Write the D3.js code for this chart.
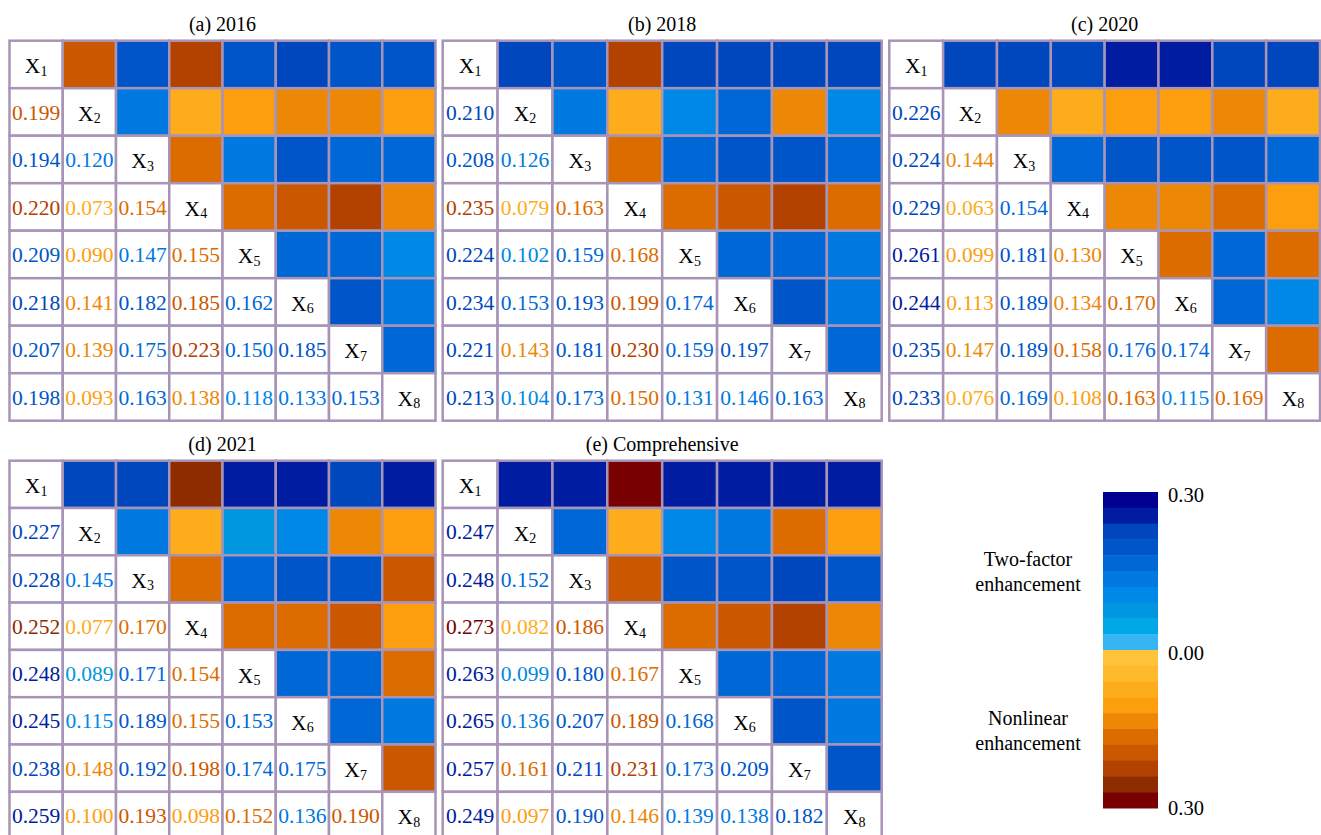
<!DOCTYPE html>
<html><head><meta charset="utf-8">
<script src="https://cdn.jsdelivr.net/npm/d3@7"></script>
<style>body{margin:0;background:#fff}svg{display:block}</style>
</head><body>
<svg id="chart" width="1321" height="835"></svg>
<script>
// ---------- DATA ----------
const factors = ["X1","X2","X3","X4","X5","X6","X7","X8"];
const panelTitles = ["(a) 2016","(b) 2018","(c) 2020","(d) 2021","(e) Comprehensive"];

// lower-triangle q-values, row k = factor X(k+2), columns X1..X(k+1)
const values2016 = [
  [0.199],
  [0.194,0.120],
  [0.220,0.073,0.154],
  [0.209,0.090,0.147,0.155],
  [0.218,0.141,0.182,0.185,0.162],
  [0.207,0.139,0.175,0.223,0.150,0.185],
  [0.198,0.093,0.163,0.138,0.118,0.133,0.153]
];
// interaction type: B = two-factor enhancement, N = nonlinear enhancement
const types2016 = ["N","BB","NNN","BNBN","BNBNB","BNBNBB","BNBNBBB"];

const values2018 = [
  [0.210],
  [0.208,0.126],
  [0.235,0.079,0.163],
  [0.224,0.102,0.159,0.168],
  [0.234,0.153,0.193,0.199,0.174],
  [0.221,0.143,0.181,0.230,0.159,0.197],
  [0.213,0.104,0.173,0.150,0.131,0.146,0.163]
];
const types2018 = ["B","BB","NNN","BBBN","BBBNB","BNBNBB","BBBNBBB"];

const values2020 = [
  [0.226],
  [0.224,0.144],
  [0.229,0.063,0.154],
  [0.261,0.099,0.181,0.130],
  [0.244,0.113,0.189,0.134,0.170],
  [0.235,0.147,0.189,0.158,0.176,0.174],
  [0.233,0.076,0.169,0.108,0.163,0.115,0.169]
];
const types2020 = ["B","BN","BNB","BNBN","BNBNN","BNBNBB","BNBNNBN"];

const values2021 = [
  [0.227],
  [0.228,0.145],
  [0.252,0.077,0.170],
  [0.248,0.089,0.171,0.154],
  [0.245,0.115,0.189,0.155,0.153],
  [0.238,0.148,0.192,0.198,0.174,0.175],
  [0.259,0.100,0.193,0.098,0.152,0.136,0.190]
];
const types2021 = ["B","BB","NNN","BBBN","BBBNB","BNBNBB","BNNNNBN"];

const valuesAll = [
  [0.247],
  [0.248,0.152],
  [0.273,0.082,0.186],
  [0.263,0.099,0.180,0.167],
  [0.265,0.136,0.207,0.189,0.168],
  [0.257,0.161,0.211,0.231,0.173,0.209],
  [0.249,0.097,0.190,0.146,0.139,0.138,0.182]
];
const typesAll = ["B","BB","NNN","BBBN","BBBNB","BNBNBB","BNBNBBB"];

// colour bins (0 -> 0.30, step 0.03)
const binThresholds = [0.03,0.06,0.09,0.12,0.15,0.18,0.21,0.24,0.27];
const blueColors   = ["#35b6f2","#00a8e8","#0097e0","#0088e6","#0079e0","#0068d6","#0055c8","#0046bd","#001ca0","#000090"];
const orangeColors = ["#ffc43a","#ffb92c","#fdad1c","#fd9e0e","#ec8806","#dc6c00","#cb5700","#b34100","#8e2c00","#780000"];
const legendTicks = ["0.30","0.00","0.30"];
const legendNotes = [["Two-factor","enhancement"],["Nonlinear","enhancement"]];

// ---------- DRAW ----------
const FONT = "'Liberation Serif','Times New Roman',serif";
const GRID = "#a894b6";
const svg = d3.select("#chart");

const blueScale = d3.scaleThreshold().domain(binThresholds).range(blueColors);
const orangeScale = d3.scaleThreshold().domain(binThresholds).range(orangeColors);
const colorOf = (v,t) => t === "B" ? blueScale(v) : orangeScale(v);

const panels = [
  {title: panelTitles[0], values: values2016, types: types2016, x0: 9.5,   x1: 435.5, y0: 40.7,  y1: 420.7},
  {title: panelTitles[1], values: values2018, types: types2018, x0: 442.7, x1: 881.7, y0: 40.7,  y1: 420.7},
  {title: panelTitles[2], values: values2020, types: types2020, x0: 889.3, x1: 1320,  y0: 40.7,  y1: 420.7},
  {title: panelTitles[3], values: values2021, types: types2021, x0: 9.5,   x1: 435.5, y0: 460.7, y1: 839.1},
  {title: panelTitles[4], values: valuesAll,  types: typesAll,  x0: 442.7, x1: 881.7, y0: 460.7, y1: 839.1}
];

panels.forEach(p => {
  const x = d3.scaleBand().domain(factors).range([p.x0, p.x1]);
  const y = d3.scaleBand().domain(factors).range([p.y0, p.y1]);
  const g = svg.append("g");

  const cells = [];
  factors.forEach((fi, i) => factors.forEach((fj, j) => {
    let v = null, t = null;
    if (i > j) { v = p.values[i-1][j]; t = p.types[i-1][j]; }
    else if (j > i) { v = p.values[j-1][i]; t = p.types[j-1][i]; }
    cells.push({i, j, fi, fj, v, t});
  }));

  g.selectAll("rect").data(cells).join("rect")
    .attr("x", d => x(d.fj)).attr("y", d => y(d.fi))
    .attr("width", x.bandwidth()).attr("height", y.bandwidth())
    .attr("fill", d => d.j > d.i ? colorOf(d.v, d.t) : "#fff")
    .attr("stroke", GRID).attr("stroke-width", 2.5);

  // lower triangle numbers
  g.selectAll("text.val").data(cells.filter(d => d.i > d.j)).join("text")
    .attr("class", "val")
    .attr("x", d => x(d.fj) + x.bandwidth()/2)
    .attr("y", d => y(d.fi) + y.bandwidth()/2 + 7.6)
    .attr("text-anchor", "middle")
    .attr("font-family", FONT).attr("font-size", 21.5)
    .attr("fill", d => colorOf(d.v, d.t))
    .text(d => d3.format(".3f")(d.v));

  // diagonal labels
  const diag = g.selectAll("text.diag").data(cells.filter(d => d.i === d.j)).join("text")
    .attr("class", "diag")
    .attr("x", d => x(d.fj) + x.bandwidth()/2)
    .attr("y", d => y(d.fi) + y.bandwidth()/2 + 9)
    .attr("text-anchor", "middle")
    .attr("font-family", FONT).attr("fill", "#000");
  diag.append("tspan").attr("font-size", 21.5).text(d => d.fi[0]);
  diag.append("tspan").attr("font-size", 14).attr("dy", 2.5).text(d => d.fi.slice(1));

  // title
  svg.append("text")
    .attr("x", (p.x0 + p.x1)/2).attr("y", p.y0 - 9.5)
    .attr("text-anchor", "middle")
    .attr("font-family", FONT).attr("font-size", 20).attr("fill", "#000")
    .text(p.title);
});

// ---------- LEGEND ----------
const legendBins = blueColors.slice().reverse().concat(orangeColors);
const ly = d3.scaleBand().domain(d3.range(legendBins.length)).range([492, 808]);
const lg = svg.append("g");
lg.selectAll("rect").data(legendBins).join("rect")
  .attr("x", 1103).attr("width", 55)
  .attr("y", (d, i) => ly(i)).attr("height", ly.bandwidth() + 0.5)
  .attr("fill", d => d);

const tickPos = d3.scalePoint().domain(d3.range(legendTicks.length)).range([492, 808]);
const tickDy = [10, 10, 7];
lg.selectAll("text.tick").data(legendTicks).join("text")
  .attr("class", "tick")
  .attr("x", 1168).attr("y", (d, i) => tickPos(i) + tickDy[i])
  .attr("font-family", FONT).attr("font-size", 20.5).attr("fill", "#000")
  .text(d => d);

const noteY = [566, 725];
legendNotes.forEach((lines, k) => {
  const t = lg.append("text")
    .attr("x", 1028).attr("y", noteY[k])
    .attr("text-anchor", "middle")
    .attr("font-family", FONT).attr("font-size", 20).attr("fill", "#000");
  lines.forEach((s, li) => t.append("tspan").attr("x", 1028).attr("dy", li === 0 ? 0 : 25).text(s));
});
</script>
</body></html>
